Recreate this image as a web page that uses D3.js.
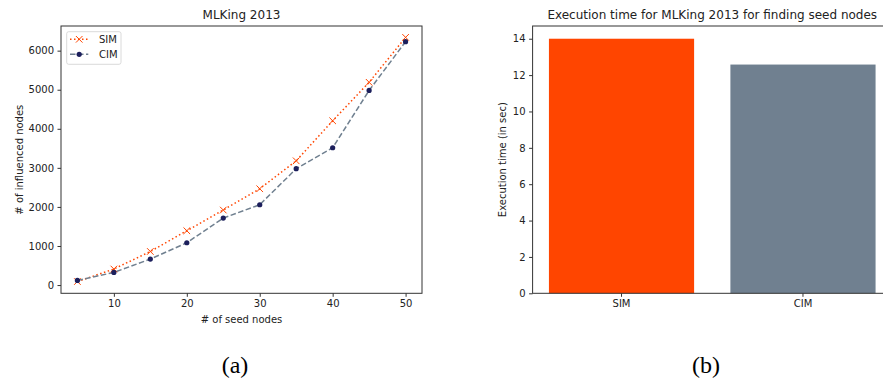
<!DOCTYPE html>
<html>
<head>
<meta charset="utf-8">
<script src="https://cdn.jsdelivr.net/npm/d3@7"></script>
<style>
  body { margin: 0; background: #fff; }
  svg { display: block; font-family: "DejaVu Sans", sans-serif; }
</style>
</head>
<body>
<div id="chart"></div>
<script>
// data
const seedNodes = [5, 10, 15, 20, 25, 30, 35, 40, 45, 50];
const simInfluenced = [90, 410, 860, 1390, 1920, 2465, 3180, 4205, 5190, 6340];
const cimInfluenced = [118, 323, 665, 1083, 1715, 2056, 2978, 3515, 4982, 6230];

const methods = ['SIM', 'CIM'];
const execTimes = [14.0, 12.58];
const methodColors = ['#ff4500', '#708090'];

const xTicksA = [10, 20, 30, 40, 50];
const yTicksA = [0, 1000, 2000, 3000, 4000, 5000, 6000];
const yTicksB = [0, 2, 4, 6, 8, 10, 12, 14];

function drawCharts() {
  const width = 883, height = 384;
  const svg = d3.select('#chart').append('svg')
      .attr('width', width)
      .attr('height', height);

  const spine = '#333';
  const tickColor = '#222';

  // ********** (a) line chart **********
  const a = {left: 61, right: 422, top: 26, bottom: 293.3};

  const x = d3.scaleLinear().domain([2.75, 52.25]).range([a.left, a.right]);
  const y = d3.scaleLinear().domain([-211, 6631]).range([a.bottom, a.top]);

  const gA = svg.append('g');

  gA.append('g')
      .attr('transform', `translate(0, ${a.bottom})`)
      .call(d3.axisBottom(x).tickValues(xTicksA).tickSizeOuter(0).tickSize(3.5).tickPadding(3.5))
      .call(g => g.select('.domain').remove())
      .call(g => g.selectAll('.tick line').attr('stroke', spine))
      .call(g => g.selectAll('.tick text').attr('fill', tickColor)
        .style('font-size', '10px').style('font-family', 'DejaVu Sans'));

  gA.append('g')
      .attr('transform', `translate(${a.left}, 0)`)
      .call(d3.axisLeft(y).tickValues(yTicksA).tickFormat(d3.format('d')).tickSizeOuter(0).tickSize(3.5).tickPadding(3.5))
      .call(g => g.select('.domain').remove())
      .call(g => g.selectAll('.tick line').attr('stroke', spine))
      .call(g => g.selectAll('.tick text').attr('fill', tickColor)
        .style('font-size', '10px').style('font-family', 'DejaVu Sans'));

  gA.append('rect')
      .attr('x', a.left).attr('y', a.top)
      .attr('width', a.right - a.left).attr('height', a.bottom - a.top)
      .attr('fill', 'none').attr('stroke', spine).attr('stroke-width', 1);

  const line = d3.line().x(d => x(d[0])).y(d => y(d[1]));
  const simPts = seedNodes.map((s, i) => [s, simInfluenced[i]]);
  const cimPts = seedNodes.map((s, i) => [s, cimInfluenced[i]]);

  gA.append('path')
      .datum(simPts)
      .attr('d', line)
      .attr('fill', 'none')
      .attr('stroke', '#ff4500')
      .attr('stroke-width', 1.5)
      .attr('stroke-dasharray', '1.5,2.5');

  gA.append('path')
      .datum(cimPts)
      .attr('d', line)
      .attr('fill', 'none')
      .attr('stroke', '#708090')
      .attr('stroke-width', 1.5)
      .attr('stroke-dasharray', '5.5,2.5');

  // x markers for SIM
  const xMark = d3.symbol().type(d3.symbolTimes || d3.symbolCross).size(30);
  gA.selectAll('.sim-mark')
    .data(simPts)
    .join('path')
      .attr('class', 'sim-mark')
      .attr('transform', d => `translate(${x(d[0])}, ${y(d[1])})`)
      .attr('d', xMark)
      .attr('fill', 'none')
      .attr('stroke', '#ff4500')
      .attr('stroke-width', 1);

  // dots for CIM
  gA.selectAll('.cim-mark')
    .data(cimPts)
    .join('circle')
      .attr('class', 'cim-mark')
      .attr('cx', d => x(d[0]))
      .attr('cy', d => y(d[1]))
      .attr('r', 2.6)
      .attr('fill', '#1c1f5c');

  // legend
  const leg = gA.append('g');
  leg.append('rect')
      .attr('x', 66.7).attr('y', 31.7)
      .attr('width', 54.3).attr('height', 32.6)
      .attr('rx', 2)
      .attr('fill', '#fff').attr('stroke', '#d0d0d0').attr('stroke-width', 0.8);

  const legRows = [
    {label: 'SIM', y: 39.3, color: '#ff4500', dash: '1.5,2.5', mark: 'x'},
    {label: 'CIM', y: 54.3, color: '#708090', dash: '5.5,2.5', mark: 'o'}
  ];
  legRows.forEach(r => {
    leg.append('line')
        .attr('x1', 70).attr('x2', 88.3)
        .attr('y1', r.y).attr('y2', r.y)
        .attr('stroke', r.color).attr('stroke-width', 1.5)
        .attr('stroke-dasharray', r.dash);
    if (r.mark === 'x') {
      leg.append('path')
          .attr('transform', `translate(79.2, ${r.y})`)
          .attr('d', xMark)
          .attr('fill', 'none').attr('stroke', '#ff4500').attr('stroke-width', 1);
    } else {
      leg.append('circle')
          .attr('cx', 79.2).attr('cy', r.y).attr('r', 2.6)
          .attr('fill', '#1c1f5c');
    }
    leg.append('text')
        .attr('x', 99).attr('y', r.y)
        .attr('dy', '0.35em')
        .attr('fill', tickColor)
        .style('font-size', '10px')
        .text(r.label);
  });

  // titles and labels
  gA.append('text')
      .attr('x', (a.left + a.right) / 2).attr('y', 19)
      .attr('text-anchor', 'middle')
      .attr('fill', tickColor)
      .style('font-size', '12px')
      .text('MLKing 2013');

  gA.append('text')
      .attr('x', (a.left + a.right) / 2).attr('y', 323)
      .attr('text-anchor', 'middle')
      .attr('fill', tickColor)
      .style('font-size', '10px')
      .text('# of seed nodes');

  gA.append('text')
      .attr('transform', `translate(19, ${(a.top + a.bottom) / 2}) rotate(-90)`)
      .attr('text-anchor', 'middle')
      .attr('dy', '0.35em')
      .attr('fill', tickColor)
      .style('font-size', '10px')
      .text('# of influenced nodes');

  // ********** (b) bar chart **********
  const b = {left: 532.6, right: 891.9, top: 26, bottom: 293.3};

  const xb = d3.scaleBand().domain(methods).range([b.left, b.right])
      .paddingInner(0.2).paddingOuter(0.09);
  const yb = d3.scaleLinear().domain([0, 14.7]).range([b.bottom, b.top]);

  const gB = svg.append('g');

  gB.selectAll('.bar')
    .data(methods)
    .join('rect')
      .attr('class', 'bar')
      .attr('x', d => xb(d))
      .attr('width', xb.bandwidth())
      .attr('y', (d, i) => yb(execTimes[i]))
      .attr('height', (d, i) => yb(0) - yb(execTimes[i]))
      .attr('fill', (d, i) => methodColors[i]);

  gB.append('g')
      .attr('transform', `translate(0, ${b.bottom})`)
      .call(d3.axisBottom(xb).tickSizeOuter(0).tickSize(3.5).tickPadding(3.5))
      .call(g => g.select('.domain').remove())
      .call(g => g.selectAll('.tick line').attr('stroke', spine))
      .call(g => g.selectAll('.tick text').attr('fill', tickColor)
        .style('font-size', '10px').style('font-family', 'DejaVu Sans'));

  gB.append('g')
      .attr('transform', `translate(${b.left}, 0)`)
      .call(d3.axisLeft(yb).tickValues(yTicksB).tickSizeOuter(0).tickSize(3.5).tickPadding(3.5))
      .call(g => g.select('.domain').remove())
      .call(g => g.selectAll('.tick line').attr('stroke', spine))
      .call(g => g.selectAll('.tick text').attr('fill', tickColor)
        .style('font-size', '10px').style('font-family', 'DejaVu Sans'));

  gB.append('rect')
      .attr('x', b.left).attr('y', b.top)
      .attr('width', b.right - b.left).attr('height', b.bottom - b.top)
      .attr('fill', 'none').attr('stroke', spine).attr('stroke-width', 1);

  gB.append('text')
      .attr('x', (b.left + b.right) / 2).attr('y', 19)
      .attr('text-anchor', 'middle')
      .attr('fill', tickColor)
      .style('font-size', '12px')
      .text('Execution time for MLKing 2013 for finding seed nodes');

  gB.append('text')
      .attr('transform', `translate(502.3, ${(b.top + b.bottom) / 2}) rotate(-90)`)
      .attr('text-anchor', 'middle')
      .attr('dy', '0.35em')
      .attr('fill', tickColor)
      .style('font-size', '10px')
      .text('Execution time (in sec)');

  // panel captions
  const captions = [['(a)', 235], ['(b)', 706]];
  captions.forEach(([t, cx]) => {
    svg.append('text')
        .attr('x', cx).attr('y', 373)
        .attr('text-anchor', 'middle')
        .attr('fill', '#000')
        .style('font-family', '"Liberation Serif", "Times New Roman", serif')
        .style('font-size', '24px')
        .text(t);
  });
}

window.onload = drawCharts;
</script>
</body>
</html>
